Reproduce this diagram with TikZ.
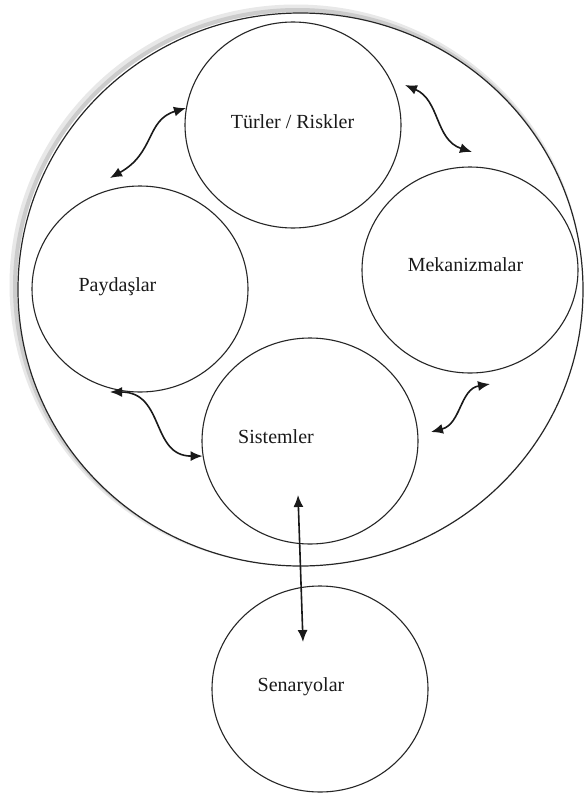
\documentclass[tikz,border=0pt]{standalone}
\usepackage{fontspec}
\setmainfont{Liberation Serif}
\usetikzlibrary{shapes.geometric,arrows.meta}
\begin{document}
\begin{tikzpicture}[x=1pt,y=-1pt,
  ring/.style={ellipse, draw=black!85, line width=1.1pt, inner sep=0pt,
               minimum width=216pt, minimum height=206pt},
  lbl/.style={font=\fontsize{20}{24}\selectfont, text=black!90, anchor=base, inner sep=0pt},
  link/.style={draw=black!90, line width=1.6pt,
               {Latex[length=12pt,width=10pt]}-{Latex[length=12pt,width=10pt]}}
]
\useasboundingbox[fill=white] (0,0) rectangle (586,795);

% soft shadow along the upper-left of the outer frame
\draw[gray!18, line width=8pt] (296,285) ellipse [x radius=282.5pt, y radius=276.5pt];
\draw[gray!40, line width=4pt] (297.5,286.5) ellipse [x radius=282.5pt, y radius=276.5pt];
\node[ellipse, draw=black!85, fill=white, line width=1.2pt, inner sep=0pt,
      minimum width=565pt, minimum height=553pt] (frame) at (300.5,289.5) {};

% the five circles
\node[ring] (tr) at (293,125) {};
\node[ring] (pd) at (140,289) {};
\node[ring] (mk) at (470,270) {};
\node[ring] (st) at (310,441) {};
\node[ring] (sn) at (320,689) {};

% labels
\node[lbl] (trL) at (292.5,128) {Türler / Riskler};
\node[lbl] (pdL) at (117.5,291) {Paydaşlar};
\node[lbl] (mkL) at (465.5,271) {Mekanizmalar};
\node[lbl] (stL) at (276,443) {Sistemler};
\node[lbl] (snL) at (301,691) {Senaryolar};

% free ends of the connectors
\coordinate (a1) at (110,178);
\coordinate (b1) at (tr.171);
\coordinate (a2) at (405,85);
\coordinate (b2) at (472,152);
\coordinate (a3) at (110,392);
\coordinate (b3) at (st.188);
\coordinate (a4) at (490,384);
\coordinate (b4) at (431,432);
\coordinate (a5) at (298,495);
\coordinate (b5) at (303,642);

% two-way links
\draw[link] (a1) .. controls +(45,-25) and +(-40,12) .. (b1);
\draw[link] (a2) .. controls +(35,15) and +(-37,-12) .. (b2);
\draw[link] (a3) .. controls +(55,0) and +(-52,0) .. (b3);
\draw[link] (a4) .. controls +(-30,5) and +(30,-8) .. (b4);
\draw[link] (a5) -- (b5);
\end{tikzpicture}
\end{document}
